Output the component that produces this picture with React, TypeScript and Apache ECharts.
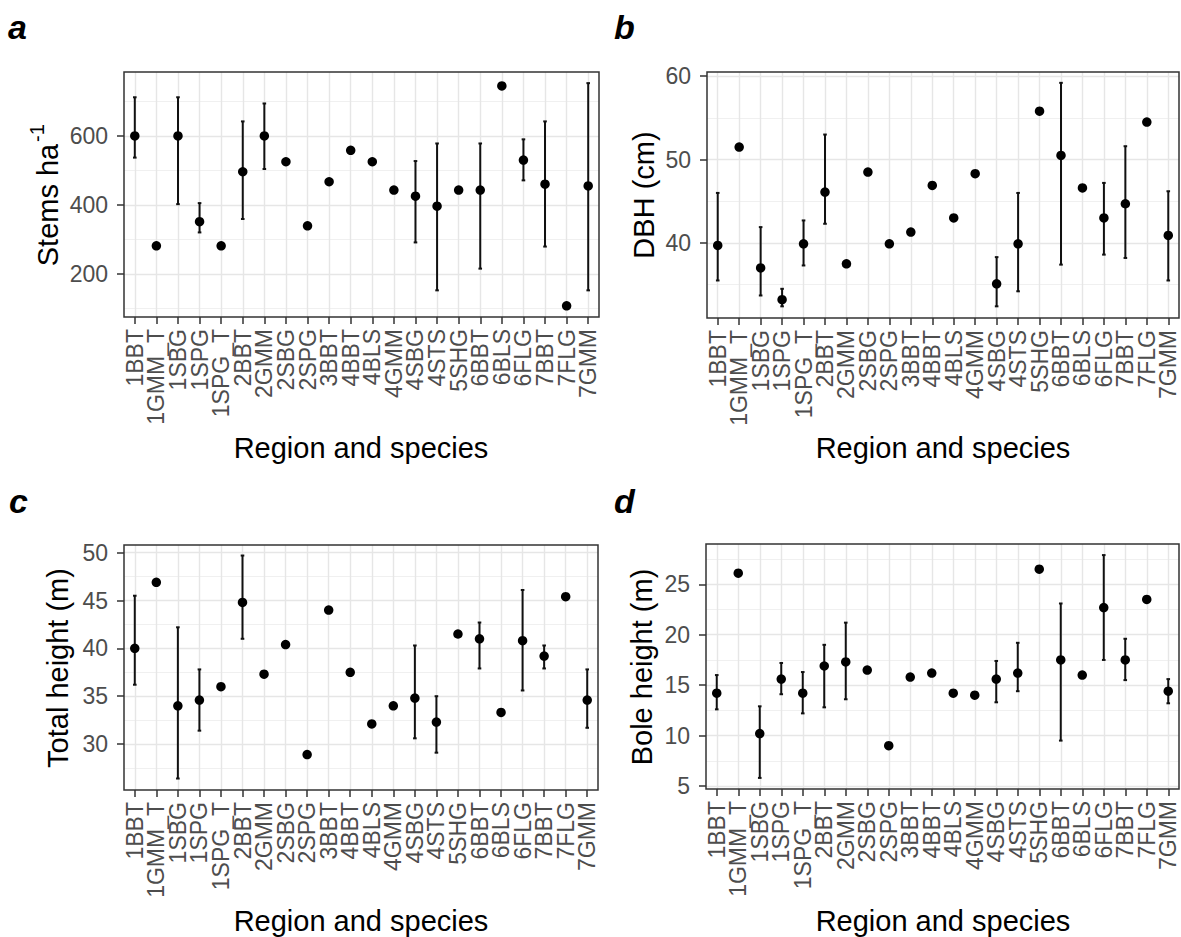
import React, { useEffect, useRef } from 'react';
import * as echarts from 'echarts';

const categories = ['1BBT', '1GMM_T', '1SBG', '1SPG', '1SPG_T', '2BBT', '2GMM', '2SBG', '2SPG', '3BBT', '4BBT', '4BLS', '4GMM', '4SBG', '4STS', '5SHG', '6BBT', '6BLS', '6FLG', '7BBT', '7FLG', '7GMM'];

// a: Stems ha-1
const stemsMean = [600, 281, 600, 351, 281, 496, 600, 525, 339, 467, 558, 525, 443, 425, 396, 443, 443, 745, 530, 460, 107, 455];
const stemsLow = [537, null, 402, 320, null, 359, 504, null, null, null, null, null, null, 291, 152, null, 215, null, 471, 279, null, 152];
const stemsHigh = [712, null, 712, 405, null, 642, 694, null, null, null, null, null, null, 527, 578, null, 578, null, 590, 642, null, 753];
const stemsTicks = [200, 400, 600];
const stemsMinor = [100, 300, 500, 700];

// b: DBH (cm)
const dbhMean = [39.7, 51.5, 37.0, 33.2, 39.9, 46.1, 37.5, 48.5, 39.9, 41.3, 46.9, 43.0, 48.3, 35.1, 39.9, 55.8, 50.5, 46.6, 43.0, 44.7, 54.5, 40.9];
const dbhLow = [35.5, null, 33.7, 32.4, 37.3, 42.3, null, null, null, null, null, null, null, 32.4, 34.2, null, 37.4, null, 38.6, 38.2, null, 35.5];
const dbhHigh = [46.0, null, 41.9, 34.5, 42.7, 53.0, null, null, null, null, null, null, null, 38.3, 46.0, null, 59.2, null, 47.2, 51.6, null, 46.2];
const dbhTicks = [40, 50, 60];
const dbhMinor = [35, 45, 55];

// c: Total height (m)
const heightMean = [40.0, 46.9, 34.0, 34.6, 36.0, 44.8, 37.3, 40.4, 28.9, 44.0, 37.5, 32.1, 34.0, 34.8, 32.3, 41.5, 41.0, 33.3, 40.8, 39.2, 45.4, 34.6];
const heightLow = [36.2, null, 26.4, 31.4, null, 41.0, null, null, null, null, null, null, null, 30.6, 29.1, null, 37.9, null, 35.6, 37.9, null, 31.7];
const heightHigh = [45.5, null, 42.2, 37.8, null, 49.7, null, null, null, null, null, null, null, 40.3, 35.0, null, 42.7, null, 46.1, 40.3, null, 37.8];
const heightTicks = [30, 35, 40, 45, 50];
const heightMinor = [27.5, 32.5, 37.5, 42.5, 47.5];

// d: Bole height (m)
const boleMean = [14.2, 26.1, 10.2, 15.6, 14.2, 16.9, 17.3, 16.5, 9.0, 15.8, 16.2, 14.2, 14.0, 15.6, 16.2, 26.5, 17.5, 16.0, 22.7, 17.5, 23.5, 14.4];
const boleLow = [12.6, null, 5.8, 14.1, 12.2, 12.8, 13.6, null, null, null, null, null, null, 13.3, 14.4, null, 9.5, null, 17.5, 15.5, null, 13.2];
const boleHigh = [16.0, null, 12.9, 17.2, 16.3, 19.0, 21.2, null, null, null, null, null, null, 17.4, 19.2, null, 23.1, null, 27.9, 19.6, null, 15.6];
const boleTicks = [5, 10, 15, 20, 25];
const boleMinor = [7.5, 12.5, 17.5, 22.5, 27.5];

const FONT = '"Liberation Sans", Arial, Helvetica, sans-serif';

const panels = [
  { mean: stemsMean, low: stemsLow, high: stemsHigh, ticks: stemsTicks, minor: stemsMinor, min: 74.7, max: 785.3,
    grid: { left: 124, top: 72, width: 475, height: 245 } },
  { mean: dbhMean, low: dbhLow, high: dbhHigh, ticks: dbhTicks, minor: dbhMinor, min: 31.0, max: 60.5,
    grid: { left: 707, top: 72, width: 472, height: 246 } },
  { mean: heightMean, low: heightLow, high: heightHigh, ticks: heightTicks, minor: heightMinor, min: 25.2, max: 50.8,
    grid: { left: 124, top: 545, width: 474, height: 245 } },
  { mean: boleMean, low: boleLow, high: boleHigh, ticks: boleTicks, minor: boleMinor, min: 4.7, max: 29.0,
    grid: { left: 706, top: 544, width: 473, height: 245 } },
];

function txt(text: string, x: number, y: number, size: number, opts: any = {}) {
  const align = opts.align || 'center';
  const valign = opts.valign || 'middle';
  return {
    type: 'text',
    x,
    y,
    rotation: opts.rotation || 0,
    z: 20,
    silent: true,
    style: {
      text,
      fill: opts.color || '#000000',
      fontSize: size,
      fontFamily: FONT,
      fontWeight: opts.weight || 'normal',
      fontStyle: opts.style || 'normal',
      align,
      verticalAlign: valign,
      textAlign: align,
      textVerticalAlign: valign,
    },
  };
}

export default function App() {
  const ref = useRef<HTMLDivElement>(null);

  useEffect(() => {
    if (!ref.current) return;
    const chart = echarts.init(ref.current, null, { renderer: 'svg' });

    const grids: any[] = [];
    const xAxes: any[] = [];
    const yAxes: any[] = [];
    const series: any[] = [];

    panels.forEach((p, i) => {
      grids.push({
        ...p.grid,
        show: true,
        z: 6,
        backgroundColor: 'transparent',
        borderColor: '#333333',
        borderWidth: 1.5,
      });
      xAxes.push({
        type: 'category',
        gridIndex: i,
        data: categories,
        boundaryGap: true,
        axisLine: { show: false },
        axisTick: { show: true, alignWithLabel: true, interval: 0, length: 7, lineStyle: { color: '#333333', width: 1.5 } },
        axisLabel: { show: true, interval: 0, rotate: 90, margin: 12, color: '#4D4D4D', fontSize: 23, fontFamily: FONT },
        splitLine: { show: false },
      });
      yAxes.push({
        type: 'value',
        gridIndex: i,
        min: p.min,
        max: p.max,
        axisLine: { show: false },
        axisTick: { show: true, customValues: p.ticks, length: 7, lineStyle: { color: '#333333', width: 1.5 } },
        axisLabel: { show: true, customValues: p.ticks, margin: 16, color: '#4D4D4D', fontSize: 23, fontFamily: FONT },
        splitLine: { show: false },
      });

      const gridLines: any[] = [];
      p.minor.forEach((v) => gridLines.push({ yAxis: v, lineStyle: { color: '#F0F0F0', width: 1, type: 'solid' } }));
      p.ticks.forEach((v) => gridLines.push({ yAxis: v, lineStyle: { color: '#E6E6E6', width: 1.4, type: 'solid' } }));
      categories.forEach((c) => gridLines.push({ xAxis: c, lineStyle: { color: '#E6E6E6', width: 1.4, type: 'solid' } }));

      const errData: any[] = [];
      p.mean.forEach((_, k) => {
        if (p.low[k] != null && p.high[k] != null) errData.push([k, p.low[k], p.high[k]]);
      });

      series.push({
        type: 'line',
        xAxisIndex: i,
        yAxisIndex: i,
        data: [],
        silent: true,
        z: 1,
        markLine: {
          silent: true,
          symbol: ['none', 'none'],
          label: { show: false },
          emphasis: { disabled: true },
          z: 1,
          data: gridLines,
        },
      });
      series.push({
        type: 'custom',
        xAxisIndex: i,
        yAxisIndex: i,
        z: 3,
        silent: true,
        encode: { x: 0, y: [1, 2] },
        data: errData,
        renderItem: (params: any, api: any) => {
          const x = api.value(0);
          const lo = api.coord([x, api.value(1)]);
          const hi = api.coord([x, api.value(2)]);
          const c = 1.8;
          const st = { stroke: '#111111', lineWidth: 2 };
          return {
            type: 'group',
            children: [
              { type: 'line', shape: { x1: lo[0], y1: lo[1], x2: hi[0], y2: hi[1] }, style: st },
              { type: 'line', shape: { x1: lo[0] - c, y1: lo[1], x2: lo[0] + c, y2: lo[1] }, style: st },
              { type: 'line', shape: { x1: hi[0] - c, y1: hi[1], x2: hi[0] + c, y2: hi[1] }, style: st },
            ],
          };
        },
      });
      series.push({
        type: 'scatter',
        xAxisIndex: i,
        yAxisIndex: i,
        z: 4,
        silent: true,
        symbol: 'circle',
        symbolSize: 9.5,
        itemStyle: { color: '#000000', opacity: 1 },
        data: p.mean.map((v, k) => [k, v]),
      });
    });

    const graphic: any[] = [
      txt('a', 8, 27, 34, { align: 'left', weight: 'bold', style: 'italic' }),
      txt('b', 614, 27, 34, { align: 'left', weight: 'bold', style: 'italic' }),
      txt('c', 9, 501, 34, { align: 'left', weight: 'bold', style: 'italic' }),
      txt('d', 614, 501, 34, { align: 'left', weight: 'bold', style: 'italic' }),
      txt('Stems ha', 48, 205, 29, { rotation: Math.PI / 2 }),
      txt('-1', 37, 133, 20, { rotation: Math.PI / 2 }),
      txt('DBH (cm)', 644, 195, 29, { rotation: Math.PI / 2 }),
      txt('Total height (m)', 58, 668, 29, { rotation: Math.PI / 2 }),
      txt('Bole height (m)', 642, 667, 29, { rotation: Math.PI / 2 }),
      txt('Region and species', 361, 448, 29),
      txt('Region and species', 943, 448, 29),
      txt('Region and species', 361, 921, 29),
      txt('Region and species', 943, 921, 29),
    ];

    chart.setOption({
      animation: false,
      backgroundColor: '#ffffff',
      textStyle: { fontFamily: FONT },
      grid: grids,
      xAxis: xAxes,
      yAxis: yAxes,
      series,
      graphic,
    });

    return () => {
      chart.dispose();
    };
  }, []);

  return (
    <div
      ref={ref}
      style={{ position: 'absolute', left: 0, top: 0, width: 1181, height: 937, background: '#ffffff' }}
    />
  );
}
